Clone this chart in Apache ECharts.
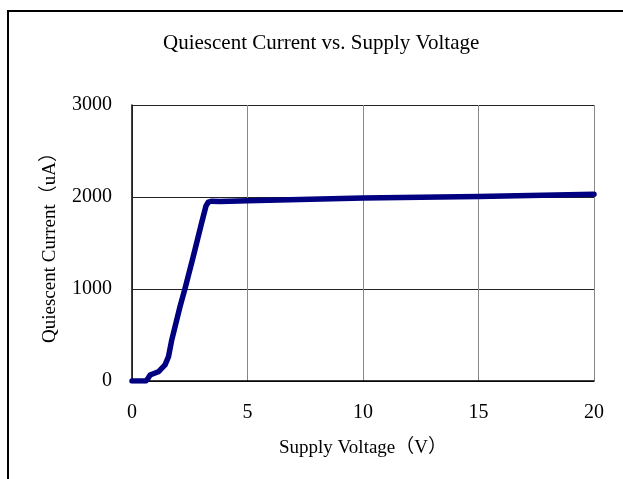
<!DOCTYPE html>
<html>
<head>
<meta charset="utf-8">
<script src="https://cdn.jsdelivr.net/npm/echarts@6/dist/echarts.min.js"></script>
<style>
  html, body { margin: 0; padding: 0; background: #fff; }
  #main { width: 623px; height: 479px; }
</style>
</head>
<body>
<div id="main"></div>
<script>
// supply voltage (V) / quiescent current (uA)
var voltage = [0, 0.6, 0.7, 0.78, 1.14, 1.43, 1.58, 1.72, 2.08, 2.29, 2.65, 3.01, 3.2, 3.3, 3.45, 3.8, 5, 10, 15, 20];
var current = [0, 0, 30, 65, 100, 175, 265, 445, 810, 1000, 1350, 1715, 1900, 1945, 1955, 1950, 1960, 1990, 2005, 2030];
var xTicks = [0, 5, 10, 15, 20];
var yTicks = [0, 1000, 2000, 3000];

var serif = "'Liberation Serif', 'Times New Roman', 'Noto Sans CJK SC', serif";

var points = voltage.map(function (v, i) { return [v, current[i]]; });

var myChart = echarts.init(document.getElementById('main'));

var option = {
  backgroundColor: '#fff',
  animation: false,
  title: {
    text: 'Quiescent Current vs. Supply Voltage',
    left: 158,
    top: 28,
    textStyle: { fontFamily: serif, fontWeight: 'normal', fontSize: 21, color: '#000' }
  },
  graphic: [{
    type: 'rect',
    shape: { x: 8, y: 11, width: 640, height: 500 },
    style: { fill: null, stroke: '#000', lineWidth: 2 },
    silent: true
  }],
  grid: { left: 132, right: 29, top: 105, bottom: 98 },
  xAxis: {
    type: 'value',
    min: xTicks[0],
    max: xTicks[xTicks.length - 1],
    interval: 5,
    name: 'Supply Voltage（V）',
    nameLocation: 'middle',
    nameGap: 58,
    nameTextStyle: { fontFamily: serif, fontSize: 19, color: '#000' },
    axisLine: { lineStyle: { color: '#000', width: 1.5 } },
    axisTick: { show: false },
    axisLabel: { margin: 22, fontFamily: serif, fontSize: 20, color: '#000' },
    splitLine: { show: true, lineStyle: { color: '#888', width: 1 } }
  },
  yAxis: {
    type: 'value',
    min: yTicks[0],
    max: yTicks[yTicks.length - 1],
    interval: 1000,
    name: 'Quiescent Current（uA）',
    nameLocation: 'middle',
    nameGap: 72,
    nameTextStyle: { fontFamily: serif, fontSize: 19, color: '#000' },
    axisLine: { show: true, lineStyle: { color: '#000', width: 1.5 } },
    axisTick: { show: false },
    axisLabel: {
      margin: 20, fontFamily: serif, fontSize: 20, color: '#000',
      padding: [4, 0, 0, 0],
      formatter: function (v) { return String(v); }
    },
    splitLine: { show: true, lineStyle: { color: '#222', width: 1 } }
  },
  series: [{
    type: 'line',
    data: points,
    showSymbol: false,
    smooth: false,
    lineStyle: { color: '#000080', width: 5.5, join: 'round', cap: 'round' },
    itemStyle: { color: '#000080' }
  }]
};

myChart.setOption(option);
</script>
</body>
</html>
